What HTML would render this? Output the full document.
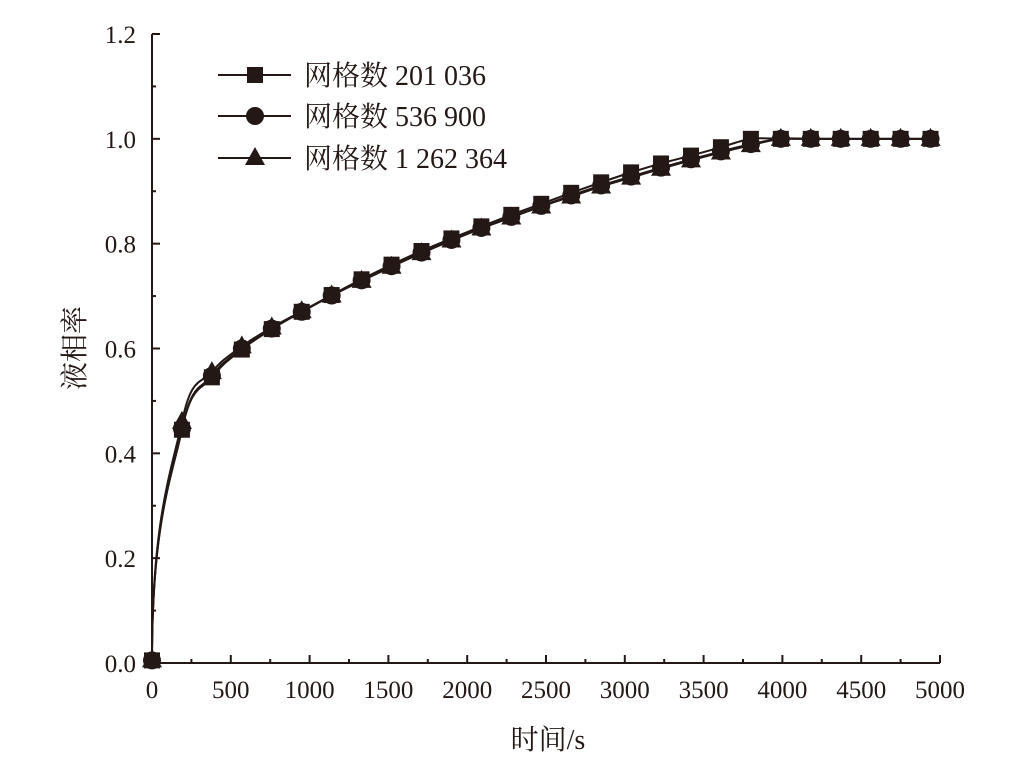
<!DOCTYPE html>
<html><head><meta charset="utf-8"><style>
html,body{margin:0;padding:0;background:#fff;}
svg{display:block;font-family:"Liberation Serif","Noto Serif CJK SC",serif;}
</style></head><body>
<svg id="chart" width="1028" height="768" viewBox="0 0 1028 768" xmlns="http://www.w3.org/2000/svg">
<g id="axes"></g>
<g id="series"></g>
<g id="legend"></g>
<text x="548" y="749" font-size="28" text-anchor="middle" fill="#231815">时间/s</text>
<text transform="translate(84,348) rotate(-90)" font-size="28" text-anchor="middle" fill="#231815">液相率</text>
</svg>
<script>
const times = [0,190,380,570,760,950,1140,1330,1520,1710,1900,2090,2280,2470,2660,2850,3040,3230,3420,3610,3800,3990,4180,4370,4560,4750,4940];
const series1 = [0.005,0.445,0.545,0.598,0.637,0.670,0.702,0.732,0.760,0.786,0.810,0.833,0.855,0.876,0.897,0.917,0.936,0.953,0.968,0.984,1.0,1.0,1.0,1.0,1.0,1.0,1.0];
const series2 = [0.005,0.447,0.548,0.600,0.638,0.670,0.701,0.730,0.757,0.783,0.807,0.830,0.851,0.872,0.892,0.911,0.928,0.945,0.961,0.976,0.990,1.0,1.0,1.0,1.0,1.0,1.0];
const series3 = [0.005,0.460,0.555,0.604,0.640,0.671,0.701,0.729,0.756,0.782,0.806,0.829,0.850,0.871,0.890,0.909,0.926,0.943,0.959,0.974,0.988,1.0,1.0,1.0,1.0,1.0,1.0];
const seriesNames = ["网格数 201 036","网格数 536 900","网格数 1 262 364"];
const xTicks = [0,500,1000,1500,2000,2500,3000,3500,4000,4500,5000];
const yTicks = [0.0,0.2,0.4,0.6,0.8,1.0,1.2];

const NS="http://www.w3.org/2000/svg";
const X0=152,X1=940,Y0=663,Y1=34;
const sx=v=>X0+(v/5000)*(X1-X0);
const sy=v=>Y0-(v/1.2)*(Y0-Y1);
const C="#231815";
function mk(tag,attrs,parent){const e=document.createElementNS(NS,tag);for(const k in attrs)e.setAttribute(k,attrs[k]);parent.appendChild(e);return e;}
const axes=document.getElementById('axes');
let e=mk('line',{x1:X0,y1:Y0,x2:X1,y2:Y0,stroke:C,'stroke-width':2},axes);


e=mk('line',{x1:X0,y1:Y0,x2:X0,y2:Y1,stroke:C,'stroke-width':2},axes);


xTicks.forEach((t,i)=>{
  const x=sx(t);
  let l=mk('line',{x1:x,y1:Y0,x2:x,y2:Y0-8,stroke:C,'stroke-width':2},axes);
  
  
  if(i<xTicks.length-1){let m=mk('line',{x1:sx(t+250),y1:Y0,x2:sx(t+250),y2:Y0-4,stroke:C,'stroke-width':2},axes);
  
  }
  let tx=mk('text',{x:x,y:Y0+35,'font-size':25,'text-anchor':'middle',fill:C},axes);
  tx.textContent=t;
  
  
});
yTicks.forEach((t,i)=>{
  const y=sy(t);
  let l=mk('line',{x1:X0,y1:y,x2:X0+8,y2:y,stroke:C,'stroke-width':2},axes);
  
  
  if(i<yTicks.length-1){let m=mk('line',{x1:X0,y1:sy(t+0.1),x2:X0+4,y2:sy(t+0.1),stroke:C,'stroke-width':2},axes);
  
  }
  let tx=mk('text',{x:X0-16,y:y+9,'font-size':25,'text-anchor':'end',fill:C},axes);
  tx.textContent=t.toFixed(1);
  
  
});
function pathD(vals){
  const p=times.map((t,i)=>[sx(t),sy(vals[i])]);
  let d=`M${p[0][0]},${p[0][1]}`;
  for(let i=0;i<p.length-1;i++){
    const a=p[Math.max(0,i-1)],b=p[i],c=p[i+1],dd=p[Math.min(p.length-1,i+2)];
    let c1x=b[0]+(c[0]-a[0])/6,c1y=b[1]+(c[1]-a[1])/6;
    if(i===0){c1x=b[0];c1y=b[1]-(b[1]-c[1])*0.6;}
    const c2x=c[0]-(dd[0]-b[0])/6,c2y=c[1]-(dd[1]-b[1])/6;
    d+=` C${c1x},${c1y} ${c2x},${c2y} ${c[0]},${c[1]}`;
  }
  return d;
}
function marker(type,x,y,parent,name){
  let m;
  if(type===0)m=mk('rect',{x:x-8,y:y-8,width:16,height:16,fill:C},parent);
  else if(type===1)m=mk('circle',{cx:x,cy:y,r:9,fill:C},parent);
  else m=mk('polygon',{points:`${x},${y-11} ${x+10},${y+7} ${x-10},${y+7}`,fill:C},parent);
  
  
}
const sg=document.getElementById('series');
[series1,series2,series3].forEach((vals,k)=>{
  const p=mk('path',{d:pathD(vals),fill:'none',stroke:C,'stroke-width':2},sg);
  
  
});
[series1,series2,series3].forEach((vals,k)=>{
  times.forEach((t,i)=>marker(k,sx(t),sy(vals[i]),sg,'series-'+(k+1)+'-point'));
});
const lg=document.getElementById('legend');
[75,116,158].forEach((y,k)=>{
  const l=mk('line',{x1:218,y1:y,x2:291,y2:y,stroke:C,'stroke-width':2},lg);
  
  
  marker(k,255,y,lg,'legend-marker');
  const t=mk('text',{x:304,y:y+10,'font-size':28,fill:C},lg);
  t.textContent=seriesNames[k];
  
  
});
</script>
</body></html>
